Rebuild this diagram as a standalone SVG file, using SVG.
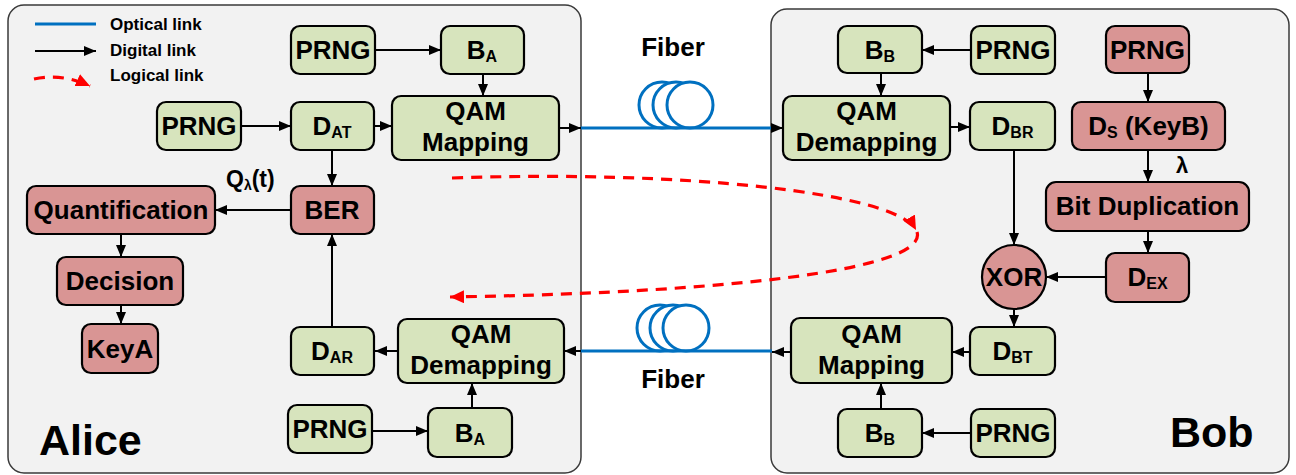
<svg xmlns="http://www.w3.org/2000/svg" width="1296" height="475" viewBox="0 0 1296 475">
<style>
.panel{fill:#f2f2f2;stroke:#3a3a3a;stroke-width:1.5}
.g{fill:#d7e4bd;stroke:#000;stroke-width:2.2}
.r{fill:#d99594;stroke:#000;stroke-width:2.2}
text{font-family:"Liberation Sans",Arial,sans-serif;font-weight:bold;fill:#000}
.t{font-size:26px;text-anchor:middle}
.sub{font-size:16px}
.leg{font-size:17px}
.big{font-size:43px}
.c{stroke:#000;stroke-width:2;fill:none;marker-end:url(#ah)}
.opt{stroke:#0070c0;stroke-width:3;fill:none}
.coil{stroke:#0070c0;stroke-width:3;fill:#fff}
.lg{stroke:#ff0000;stroke-width:3.2;fill:none;stroke-dasharray:11 8;marker-end:url(#rh)}
</style>
<defs>
<marker id="ah" markerUnits="userSpaceOnUse" markerWidth="12" markerHeight="10" refX="12" refY="5" orient="auto">
<path d="M0,0 L12,5 L0,10 z" fill="#000"/>
</marker>
<marker id="rh" markerUnits="userSpaceOnUse" markerWidth="15" markerHeight="13" refX="14" refY="6.5" orient="auto">
<path d="M0,0 L14,6.5 L0,13 z" fill="#ff0000"/>
</marker>
</defs>
<rect width="1296" height="475" fill="#fff"/>
<rect class="panel" x="8" y="5" width="573" height="468" rx="16"/>
<rect class="panel" x="771" y="9" width="518" height="464" rx="16"/>

<g id="legend">
<line x1="35" y1="24" x2="96" y2="24" class="opt"/>
<line x1="35" y1="51" x2="96" y2="51" class="c"/>
<path d="M34,79 Q62,73 90,86" class="lg" stroke-dasharray="10 7"/>
<text class="leg" x="110" y="30">Optical link</text>
<text class="leg" x="110" y="56">Digital link</text>
<text class="leg" x="110" y="81">Logical link</text>
</g>

<g id="fiber-top">
<circle class="coil" cx="662" cy="105" r="23"/>
<circle class="coil" cx="676" cy="105" r="23"/>
<circle class="coil" cx="690" cy="105" r="23"/>
<text class="t" x="673" y="56">Fiber</text>
</g>
<g id="fiber-bottom">
<circle class="coil" cx="660" cy="328" r="23"/>
<circle class="coil" cx="673" cy="328" r="23"/>
<circle class="coil" cx="686" cy="328" r="23"/>
<text class="t" x="673" y="388">Fiber</text>
</g>

<g id="labels">
<text class="big" x="39" y="455">Alice</text>
<text class="big" x="1170" y="447">Bob</text>
<text x="226" y="187" style="font-size:23px">Q<tspan style="font-size:14px" dy="3">λ</tspan><tspan dy="-3">(t)</tspan></text>
<text x="1182" y="173" style="font-size:22px;text-anchor:middle">λ</text>
</g>

<!-- Alice nodes -->
<g id="a-prng1"><rect class="g" x="291" y="26" width="84" height="48" rx="9"/><text class="t" x="333" y="59">PRNG</text></g>
<g id="a-ba1"><rect class="g" x="441" y="26" width="83" height="48" rx="9"/><text class="t" x="482" y="59">B<tspan class="sub" dy="3">A</tspan></text></g>
<g id="a-prng2"><rect class="g" x="157" y="102" width="84" height="48" rx="9"/><text class="t" x="199" y="135">PRNG</text></g>
<g id="a-dat"><rect class="g" x="291" y="102" width="83" height="48" rx="9"/><text class="t" x="332" y="135">D<tspan class="sub" dy="3">AT</tspan></text></g>
<g id="a-qammap"><rect class="g" x="392" y="96" width="167" height="64" rx="9"/><text class="t" x="475.5" y="120">QAM</text><text class="t" x="475.5" y="151">Mapping</text></g>
<g id="a-ber"><rect class="r" x="291" y="186" width="83" height="48" rx="9"/><text class="t" x="332" y="219">BER</text></g>
<g id="a-quant"><rect class="r" x="27" y="186" width="188" height="48" rx="9"/><text class="t" x="121" y="219">Quantification</text></g>
<g id="a-decision"><rect class="r" x="57" y="257" width="126" height="48" rx="9"/><text class="t" x="120" y="290">Decision</text></g>
<g id="a-keya"><rect class="r" x="82" y="324" width="76" height="49" rx="9"/><text class="t" x="120" y="358">KeyA</text></g>
<g id="a-dar"><rect class="g" x="291" y="327" width="83" height="48" rx="9"/><text class="t" x="332" y="360">D<tspan class="sub" dy="3">AR</tspan></text></g>
<g id="a-qamdemap"><rect class="g" x="398" y="319" width="166" height="64" rx="9"/><text class="t" x="481" y="343">QAM</text><text class="t" x="481" y="374">Demapping</text></g>
<g id="a-prng3"><rect class="g" x="288" y="405" width="84" height="48" rx="9"/><text class="t" x="330" y="438">PRNG</text></g>
<g id="a-ba2"><rect class="g" x="428" y="408" width="84" height="49" rx="9"/><text class="t" x="470" y="442">B<tspan class="sub" dy="3">A</tspan></text></g>

<!-- Bob nodes -->
<g id="b-bb1"><rect class="g" x="838" y="26" width="84" height="47" rx="9"/><text class="t" x="880" y="59">B<tspan class="sub" dy="3">B</tspan></text></g>
<g id="b-prng1"><rect class="g" x="971" y="26" width="84" height="48" rx="9"/><text class="t" x="1013" y="59">PRNG</text></g>
<g id="b-prng2"><rect class="r" x="1106" y="26" width="83" height="47" rx="9"/><text class="t" x="1147.5" y="59">PRNG</text></g>
<g id="b-qamdemap"><rect class="g" x="783" y="96" width="167" height="64" rx="9"/><text class="t" x="866.5" y="120">QAM</text><text class="t" x="866.5" y="151">Demapping</text></g>
<g id="b-dbr"><rect class="g" x="970" y="102" width="85" height="48" rx="9"/><text class="t" x="1012.5" y="135">D<tspan class="sub" dy="3">BR</tspan></text></g>
<g id="b-ds"><rect class="r" x="1072" y="102" width="153" height="48" rx="9"/><text class="t" x="1148.5" y="135">D<tspan class="sub" dy="3">S</tspan><tspan dy="-3"> (KeyB)</tspan></text></g>
<g id="b-bitdup"><rect class="r" x="1046" y="182" width="203" height="49" rx="10"/><text class="t" x="1147.5" y="215">Bit Duplication</text></g>
<g id="b-xor"><circle class="r" cx="1014" cy="277" r="32"/><text class="t" x="1014" y="286">XOR</text></g>
<g id="b-dex"><rect class="r" x="1106" y="253" width="83" height="49" rx="9"/><text class="t" x="1147.5" y="286">D<tspan class="sub" dy="3">EX</tspan></text></g>
<g id="b-dbt"><rect class="g" x="970" y="327" width="85" height="48" rx="9"/><text class="t" x="1012.5" y="360">D<tspan class="sub" dy="3">BT</tspan></text></g>
<g id="b-qammap"><rect class="g" x="791" y="318" width="161" height="65" rx="9"/><text class="t" x="871.5" y="343">QAM</text><text class="t" x="871.5" y="374">Mapping</text></g>
<g id="b-bb2"><rect class="g" x="838" y="409" width="84" height="48" rx="9"/><text class="t" x="880" y="442">B<tspan class="sub" dy="3">B</tspan></text></g>
<g id="b-prng3"><rect class="g" x="971" y="409" width="84" height="48" rx="9"/><text class="t" x="1013" y="442">PRNG</text></g>

<g id="connectors">
<line class="opt" x1="581" y1="128" x2="773" y2="128"/>
<line class="opt" x1="581" y1="351" x2="772" y2="351"/>
<path class="c" d="M375,50 L441,50"/>
<path class="c" d="M483,74 L483,96"/>
<path class="c" d="M241,126 L291,126"/>
<path class="c" d="M374,126 L392,126"/>
<path class="c" d="M559,128 L581,128"/>
<path class="c" d="M332,150 L332,186"/>
<path class="c" d="M291,210 L215,210"/>
<path class="c" d="M121,234 L121,257"/>
<path class="c" d="M121,305 L121,324"/>
<path class="c" d="M332,327 L332,234"/>
<path class="c" d="M398,351 L375,351"/>
<path class="c" d="M581,351 L564,351"/>
<path class="c" d="M372,431 L428,431"/>
<path class="c" d="M472,408 L472,383"/>
<path class="c" d="M772,128 L783,128"/>
<path class="c" d="M971,50 L922,50"/>
<path class="c" d="M881,73 L881,96"/>
<path class="c" d="M950,127 L970,127"/>
<path class="c" d="M1148,73 L1148,102"/>
<path class="c" d="M1014,150 L1014,245"/>
<path class="c" d="M1148,150 L1148,182"/>
<path class="c" d="M1148,231 L1148,253"/>
<path class="c" d="M1106,277 L1046,277"/>
<path class="c" d="M1014,309 L1014,327"/>
<path class="c" d="M970,352 L952,352"/>
<path class="c" d="M791,352 L772,352"/>
<path class="c" d="M971,433 L922,433"/>
<path class="c" d="M881,409 L881,383"/>
<path class="lg" d="M452,178 C680,170 895,192 916,230" stroke-dasharray="11 8 11 8 11 8 11 8 11 8 11 8 11 8 11 8 11 8 11 8 11 8 11 8 11 8 11 8 11 8 11 8 11 8 11 8 11 8 11 8 11 8 11 8 11 8 40"/>
<path class="lg" d="M917,232 C928,266 760,292 450,297"/>
</g>
</svg>
